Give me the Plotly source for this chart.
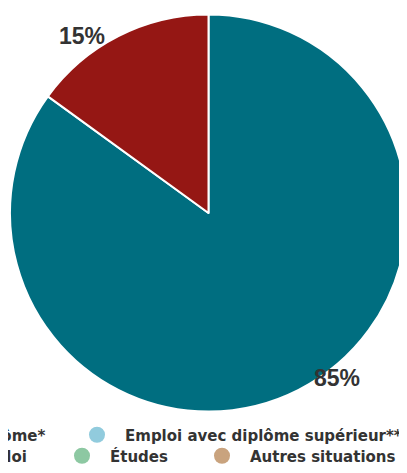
import math
import plotly.graph_objects as go

# ---------------- data ----------------
categories = [
    "Emploi avec diplôme*",
    "Emploi avec diplôme supérieur**",
    "Sans emploi",
    "Études",
    "Autres situations",
]
values = [85, 0, 15, 0, 0]
colors = ["#006E80", "#91CBDD", "#951714", "#8DC8A2", "#C9A37E"]

# ---------------- layout / style ----------------
PAGE_W, PAGE_H = 407, 473
OFF = 8  # default body margin of the html page
W, H = PAGE_W - OFF, PAGE_H - OFF


def fx(px):
    return (px - OFF) / W


def fy(py):
    return 1 - (py - OFF) / H


# pie box in page pixels: left 10, right 408, top 14, bottom 412
dom_x = [fx(10) if fx(10) > 0 else 0.0, 1.0]
dom_x = [max(0.0, 1.0 - (398 - 1) / W), 1.0]
dom_y = [fy(412), fy(14)]
label_font = dict(family="Liberation Sans, Arial, sans-serif", size=23, color="#333333", weight="bold")
legend_font = dict(family="DejaVu Sans, Verdana, sans-serif", size=15, color="#333333", weight="bold")
# legend entry placement (left edge px, vertical centre px) in page pixels
legend_pos = [(-193, 435), (69, 435), (-132, 456), (54, 456), (194, 456)]
label_shift = {"right": (13, 12), "left": (-11, 0)}

fig = go.Figure()

pie_labels = [c for c, v in zip(categories, values) if v > 0]
pie_values = [v for v in values if v > 0]
pie_colors = [col for col, v in zip(colors, values) if v > 0]

fig.add_trace(go.Pie(
    labels=pie_labels,
    values=pie_values,
    marker=dict(colors=pie_colors, line=dict(color="white", width=2)),
    sort=False,
    direction="clockwise",
    rotation=0,
    textinfo="none",
    hoverinfo="label+percent",
    showlegend=False,
    domain=dict(x=dom_x, y=dom_y),
))

# legend entries (one legend box per entry)
for i, (cat, col) in enumerate(zip(categories, colors)):
    lid = "legend" if i == 0 else f"legend{i + 1}"
    fig.add_trace(go.Scatter(
        x=[None], y=[None], mode="markers", name=cat,
        marker=dict(color=col, size=16, symbol="circle"),
        legend=lid, showlegend=True, hoverinfo="skip",
    ))
    px, py = legend_pos[i]
    fig.update_layout({lid: dict(
        x=fx(px), xanchor="left", y=fy(py), yanchor="middle",
        orientation="h", itemwidth=46, font=legend_font,
        bgcolor="rgba(0,0,0,0)", borderwidth=0,
    )})

# percentage labels at the rim of each slice (computed from the data)
dom_w = (dom_x[1] - dom_x[0]) * W
dom_h = (dom_y[1] - dom_y[0]) * H
cx = (dom_x[0] + dom_x[1]) / 2 * W
cy = (1 - (dom_y[0] + dom_y[1]) / 2) * H
r = min(dom_w, dom_h) / 2
total = sum(pie_values)
cum = 0
for v in pie_values:
    mid = (cum + v / 2) / total * 2 * math.pi
    cum += v
    rx = cx + r * math.sin(mid)
    ry = cy - r * math.cos(mid)
    side = "right" if math.sin(mid) >= 0 else "left"
    xs, ys = label_shift[side]
    fig.add_annotation(
        x=rx / W, y=1 - ry / H, xref="paper", yref="paper",
        text=f"{round(v / total * 100)}%", showarrow=False,
        xanchor="left" if side == "right" else "right", yanchor="middle",
        xshift=xs, yshift=ys, font=label_font,
    )

fig.update_layout(
    width=W, height=H,
    margin=dict(l=0, r=0, t=0, b=0, pad=0, autoexpand=False),
    paper_bgcolor="white", plot_bgcolor="white",
    xaxis=dict(visible=False), yaxis=dict(visible=False),
)

fig.write_html("out.html")
